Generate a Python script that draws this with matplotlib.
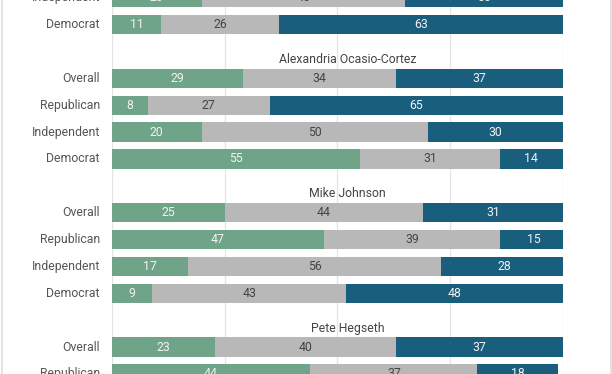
import matplotlib
matplotlib.use("Agg")
import matplotlib.pyplot as plt
from matplotlib.lines import Line2D

plt.rcParams['font.family'] = ['Roboto', 'DejaVu Sans']

# ---- data (visible window of a longer chart) ----
row_labels = ["Independent", "Democrat",
              "Overall", "Republican", "Independent", "Democrat",
              "Overall", "Republican", "Independent", "Democrat",
              "Overall", "Republican"]
row_group = [0, 0, 1, 1, 1, 1, 2, 2, 2, 2, 3, 3]
row_in_group = [2, 3, 0, 1, 2, 3, 0, 1, 2, 3, 0, 1]
favorable = [20, 11, 29, 8, 20, 55, 25, 47, 17, 9, 23, 44]
neutral = [45, 26, 34, 27, 50, 31, 44, 39, 56, 43, 40, 37]
unfavorable = [35, 63, 37, 65, 30, 14, 31, 15, 28, 48, 37, 18]
group_titles = {1: "Alexandria Ocasio-Cortez", 2: "Mike Johnson", 3: "Pete Hegseth"}

c_fav = "#6fa488"
c_neu = "#b8b8b8"
c_unf = "#1a5e7e"

W, H = 612, 374
fig = plt.figure(figsize=(W / 100, H / 100), dpi=100)
fig.patch.set_facecolor("white")

x0, x1 = 111.7, 563.0
ax = fig.add_axes([x0 / W, 0, (x1 - x0) / W, 1])
ax.set_facecolor("none")

slot = 26.87
y_first = -2.3  # pixel centre of row index 0
top_idx = (0 - y_first) / slot
bot_idx = (H - y_first) / slot
ax.set_ylim(bot_idx, top_idx)
ax.set_xlim(0, 100)

ypos = [5 * g - 2 + i for g, i in zip(row_group, row_in_group)]

for gx in [0, 25, 50, 75, 100]:
    ax.axvline(gx, color="#e4e4e4", lw=0.9, zorder=0)

bh = 0.72
ax.barh(ypos, favorable, height=bh, color=c_fav, zorder=2)
ax.barh(ypos, neutral, left=favorable, height=bh, color=c_neu, zorder=2)
lefts2 = [a + b for a, b in zip(favorable, neutral)]
ax.barh(ypos, unfavorable, left=lefts2, height=bh, color=c_unf, zorder=2)

fs = 8.8
for y, lab, f, n, u, l2 in zip(ypos, row_labels, favorable, neutral, unfavorable, lefts2):
    ax.text(-2.6, y, lab, ha="right", va="center", fontsize=fs, color="#555555", clip_on=False)
    ax.text(f / 2, y, str(f), ha="center", va="center", fontsize=fs, color="#f2f2f2", zorder=3)
    ax.text(f + n / 2, y, str(n), ha="center", va="center", fontsize=fs, color="#444444", zorder=3)
    ax.text(l2 + u / 2, y, str(u), ha="center", va="center", fontsize=fs, color="#f2f2f2", zorder=3)

for g, t in group_titles.items():
    ax.text(52.2, 5 * g - 3 + 0.3, t, ha="center", va="center", fontsize=fs, color="#444444")

for s in ax.spines.values():
    s.set_visible(False)
ax.set_xticks([])
ax.set_yticks([])

fig.add_artist(Line2D([2 / W, 2 / W], [0, 1], color="#dddddd", lw=1.2, transform=fig.transFigure))
fig.add_artist(Line2D([610.5 / W, 610.5 / W], [0, 1], color="#dddddd", lw=1.2, transform=fig.transFigure))

fig.savefig("out.png", dpi=100, facecolor="white")
